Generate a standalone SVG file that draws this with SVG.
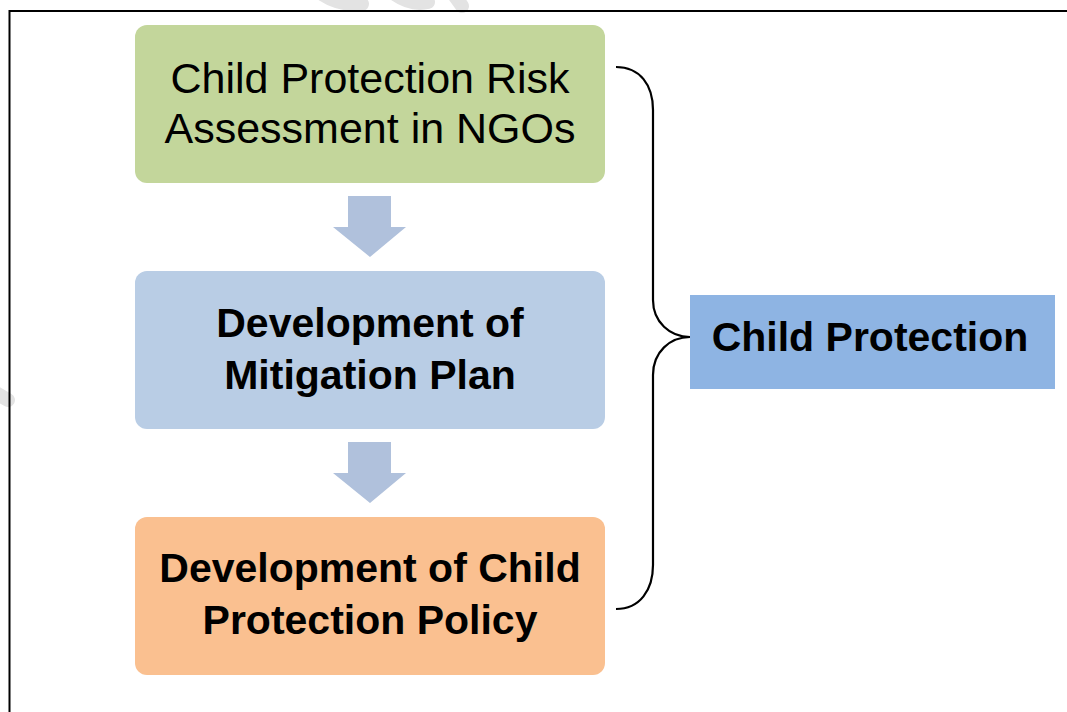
<svg xmlns="http://www.w3.org/2000/svg" width="1067" height="712" viewBox="0 0 1067 712">
  <style>
    .box { stroke: none; }
    .t { font-family: "Liberation Sans", Arial, sans-serif; fill: #000; text-anchor: middle; }
    .reg { font-size: 43px; font-weight: normal; }
    .bold { font-size: 41px; font-weight: bold; }
    .arrow { fill: #B0C1DC; }
    .brace { fill: none; stroke: #000; stroke-width: 2.2; }
    .wm { fill: none; stroke: #e3e3e3; stroke-width: 14; stroke-linecap: round; }
  </style>
  <rect x="0" y="0" width="1067" height="712" fill="#ffffff"/>
  <g id="watermark">
    <path class="wm" d="M322,-6 Q340,6 362,4"/>
    <path class="wm" d="M392,-8 Q410,6 428,2"/>
    <path class="wm" d="M452,-8 L462,6"/>
    <path class="wm" d="M-6,392 L8,400"/>
  </g>
  <g id="frame">
    <path d="M9.5,712 L9.5,11 L1067,11" fill="none" stroke="#000" stroke-width="2"/>
  </g>
  <g id="connectors">
    <path class="arrow" d="M348,196 L391,196 L391,227 L406,227 L370,257 L333,227 L348,227 Z"/>
    <path class="arrow" d="M348,442 L391,442 L391,473 L406,473 L370,503 L333,473 L348,473 Z"/>
    <path class="brace" d="M616,67 C640,67 653,85 653,110 L653,300 C653,322 670,337 690,337 C670,337 653,352 653,375 L653,565 C653,590 640,609 616,609"/>
  </g>
  <g id="node-risk-assessment">
    <rect class="box" x="135" y="25" width="470" height="158" rx="12" fill="#C3D69B"/>
    <text class="t reg" x="370" y="93">Child Protection Risk</text>
    <text class="t reg" x="370" y="143">Assessment in NGOs</text>
  </g>
  <g id="node-mitigation-plan">
    <rect class="box" x="135" y="271" width="470" height="158" rx="12" fill="#B9CDE5"/>
    <text class="t bold" x="370" y="337">Development of</text>
    <text class="t bold" x="370" y="389">Mitigation Plan</text>
  </g>
  <g id="node-policy">
    <rect class="box" x="135" y="517" width="470" height="158" rx="12" fill="#FAC090"/>
    <text class="t bold" x="370" y="582">Development of Child</text>
    <text class="t bold" x="370" y="634">Protection Policy</text>
  </g>
  <g id="node-child-protection">
    <rect class="box" x="690" y="295" width="365" height="94" fill="#8EB4E3"/>
    <text class="t bold" x="870" y="351">Child Protection</text>
  </g>
</svg>
